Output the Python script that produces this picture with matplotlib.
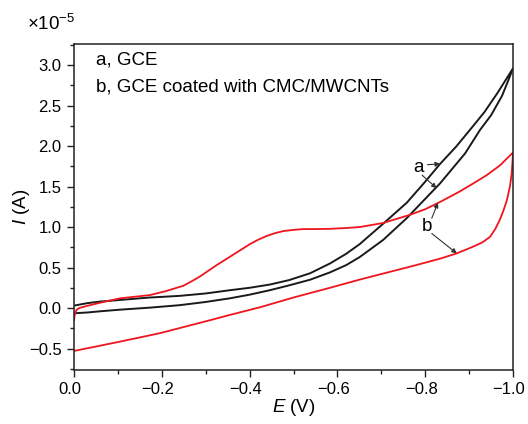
import matplotlib
matplotlib.use("Agg")
import matplotlib.pyplot as plt
from matplotlib.ticker import MultipleLocator, FuncFormatter
from matplotlib.transforms import ScaledTranslation

plt.rcParams["font.family"] = ["Liberation Sans", "DejaVu Sans"]
plt.rcParams["mathtext.fontset"] = "custom"
plt.rcParams["mathtext.rm"] = "Liberation Sans"
plt.rcParams["mathtext.it"] = "Liberation Sans:italic"

# Cyclic voltammograms, current in units of 1e-5 A
# a, bare GCE: two branches meeting at -1.0 V
gce_low_E = [0.0, -0.03, -0.06, -0.105, -0.173, -0.24, -0.30, -0.355, -0.40, -0.446,
             -0.49, -0.538, -0.583, -0.62, -0.651, -0.704, -0.758, -0.788, -0.834,
             -0.891, -0.925, -0.95, -0.975, -0.99, -1.0]
gce_low_I = [-0.065, -0.055, -0.04, -0.02, 0.005, 0.035, 0.075, 0.12, 0.165, 0.22,
             0.28, 0.35, 0.44, 0.53, 0.63, 0.84, 1.11, 1.28, 1.54,
             1.91, 2.20, 2.38, 2.62, 2.82, 2.96]
gce_up_E = [-1.0, -0.985, -0.964, -0.935, -0.902, -0.87, -0.834, -0.80, -0.758,
            -0.704, -0.651, -0.62, -0.583, -0.538, -0.49, -0.446, -0.40, -0.355,
            -0.30, -0.24, -0.173, -0.105, -0.06, -0.03, 0.0]
gce_up_I = [2.96, 2.83, 2.65, 2.42, 2.20, 1.99, 1.78, 1.56, 1.30,
            1.04, 0.79, 0.67, 0.55, 0.43, 0.345, 0.29, 0.25, 0.22,
            0.18, 0.15, 0.13, 0.10, 0.08, 0.06, 0.03]

# b, GCE coated with CMC/MWCNTs
cnt_up_E = [0.0, -0.002, -0.006, -0.012, -0.025, -0.059, -0.105, -0.173, -0.21,
            -0.249, -0.268, -0.287, -0.306, -0.325, -0.344, -0.363, -0.382, -0.401,
            -0.42, -0.439, -0.458, -0.477, -0.50, -0.522, -0.55, -0.583, -0.62,
            -0.651, -0.704, -0.765, -0.80, -0.834, -0.879, -0.91, -0.94, -0.97, -1.0]
cnt_up_I = [-0.15, -0.07, -0.02, 0.0, 0.02, 0.065, 0.12, 0.16, 0.21,
            0.275, 0.33, 0.39, 0.46, 0.53, 0.595, 0.66, 0.725, 0.79,
            0.845, 0.89, 0.925, 0.95, 0.965, 0.975, 0.975, 0.978, 0.988,
            1.0, 1.05, 1.15, 1.22, 1.31, 1.44, 1.54, 1.64, 1.76, 1.92]
cnt_low_E = [-1.0, -0.999, -0.997, -0.993, -0.986, -0.978, -0.970, -0.96, -0.948,
             -0.93, -0.91, -0.872, -0.834, -0.80, -0.765, -0.70, -0.65, -0.583,
             -0.538, -0.50, -0.424, -0.355, -0.31, -0.196, -0.10, 0.0]
cnt_low_I = [1.92, 1.82, 1.66, 1.50, 1.33, 1.20, 1.09, 0.98, 0.88,
             0.81, 0.76, 0.675, 0.61, 0.56, 0.51, 0.42, 0.35, 0.25,
             0.185, 0.13, 0.01, -0.085, -0.15, -0.31, -0.42, -0.53]

legend_lines = ["a, GCE", "b, GCE coated with CMC/MWCNTs"]

fig = plt.figure(figsize=(5.28, 4.24), dpi=100)
ax = fig.add_axes([74 / 528, 1 - 370 / 424, 439 / 528, 326 / 424])

black = "#1a1a1a"
red = "#f0141e"
ax.plot(gce_low_E + gce_up_E, gce_low_I + gce_up_I, color=black, lw=1.4,
        solid_joinstyle="round")
ax.plot(cnt_up_E + cnt_low_E, cnt_up_I + cnt_low_I, color=red, lw=1.3,
        solid_joinstyle="round")

ax.set_xlim(0.0, -1.0)
ax.set_ylim(-0.765, 3.26)

ax.xaxis.set_major_locator(MultipleLocator(0.2))
ax.xaxis.set_minor_locator(MultipleLocator(0.1))
ax.yaxis.set_major_locator(MultipleLocator(0.5))
ax.yaxis.set_minor_locator(MultipleLocator(0.25))
fmt = FuncFormatter(lambda v, p: f"{v:.1f}".replace("-", "\u2212") if abs(v) > 1e-9 else "0.0")
ax.xaxis.set_major_formatter(fmt)
ax.yaxis.set_major_formatter(fmt)

ax.tick_params(which="both", direction="out", top=False, right=False,
               width=1.0, labelsize=12, color="#222222")
ax.tick_params(which="major", length=5, pad=4)
ax.tick_params(which="minor", length=3)
for sp in ax.spines.values():
    sp.set_linewidth(1.1)
    sp.set_color("#222222")

# nudge the x tick labels slightly left so the last one stays inside the figure
shift = ScaledTranslation(-4 / 100, 0, fig.dpi_scale_trans)
for lbl in ax.get_xticklabels():
    lbl.set_transform(lbl.get_transform() + shift)

ax.set_xlabel("$E$ (V)", fontsize=13.5, va="center")
ax.xaxis.set_label_coords(0.5, (370 - 408) / 326)
ax.set_ylabel("$I$ (A)", fontsize=13.5, va="center")
ax.yaxis.set_label_coords((21 - 74) / 439, 0.5)
fig.text(27 / 528, 1 - 30 / 424, r"$\times10^{-5}$", fontsize=13.5,
         ha="left", va="baseline")

ax.text(0.05, 0.95, legend_lines[0], transform=ax.transAxes, fontsize=13.5,
        ha="left", va="center")
ax.text(0.05, 0.867, legend_lines[1], transform=ax.transAxes, fontsize=13.5,
        ha="left", va="center")

arrow = dict(arrowstyle="-|>", color="#333333", lw=0.8, mutation_scale=7,
             shrinkA=0, shrinkB=0)
ax.text(-0.785, 1.74, "a", fontsize=13.5, ha="center", va="center")
ax.annotate("", xy=(-0.834, 1.78), xytext=(-0.805, 1.77), arrowprops=arrow)
ax.annotate("", xy=(-0.826, 1.48), xytext=(-0.793, 1.64), arrowprops=arrow)
ax.text(-0.803, 1.01, "b", fontsize=13.5, ha="center", va="center")
ax.annotate("", xy=(-0.829, 1.30), xytext=(-0.815, 1.11), arrowprops=arrow)
ax.annotate("", xy=(-0.872, 0.675), xytext=(-0.815, 0.92), arrowprops=arrow)

fig.savefig("out.png", dpi=100)
